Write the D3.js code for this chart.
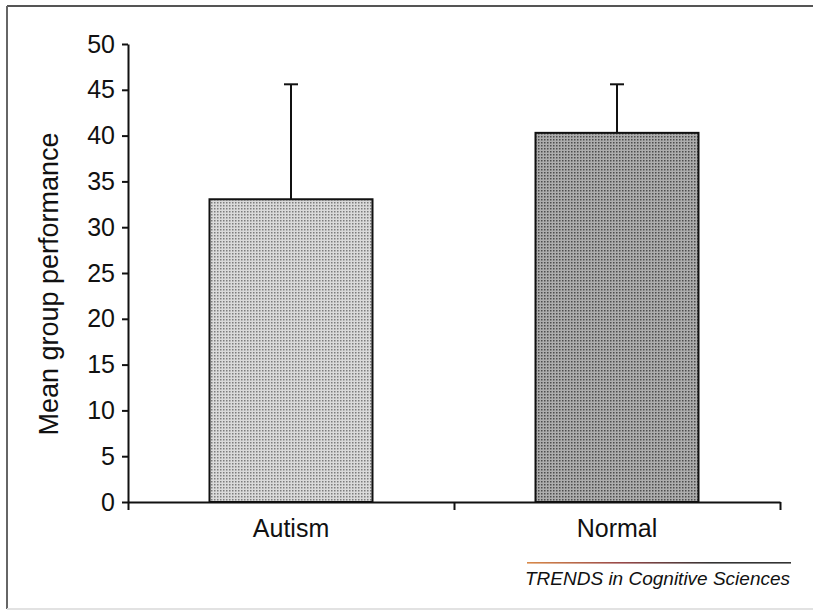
<!DOCTYPE html>
<html>
<head>
<meta charset="utf-8">
<script src="https://cdn.jsdelivr.net/npm/d3@7"></script>
<style>
  body { margin: 0; background: #fff; }
  svg { display: block; }
  text { font-family: Arial, "Liberation Sans", sans-serif; fill: #111; }
</style>
</head>
<body>
<svg id="chart"></svg>
<script>
// data
const groups = ["Autism", "Normal"];
const means = [33.05, 40.3];
const errors = [12.55, 5.3];
const yTicks = [0, 5, 10, 15, 20, 25, 30, 35, 40, 45, 50];

const W = 813, H = 611;
const svg = d3.select("#chart").attr("width", W).attr("height", H);

// patterns for the stippled bars
const defs = svg.append("defs");
function stipple(id, bg, dot) {
  const p = defs.append("pattern")
    .attr("id", id).attr("patternUnits", "userSpaceOnUse")
    .attr("width", 3).attr("height", 3);
  p.append("rect").attr("width", 3).attr("height", 3).attr("fill", bg);
  p.append("rect").attr("x", 1).attr("y", 1).attr("width", 1.5).attr("height", 1.5).attr("fill", dot);
}
stipple("pA", "#dadada", "#7c7c7c");
stipple("pN", "#adadad", "#4c4c4c");
const fills = ["url(#pA)", "url(#pN)"];

// frame
svg.append("line").attr("x1", 7).attr("x2", W).attr("y1", 6).attr("y2", 6)
  .attr("stroke", "#555").attr("stroke-width", 2);
svg.append("line").attr("x1", 7).attr("x2", 7).attr("y1", 6).attr("y2", 609)
  .attr("stroke", "#666").attr("stroke-width", 2);
svg.append("line").attr("x1", 7).attr("x2", W).attr("y1", 609).attr("y2", 609)
  .attr("stroke", "#e2e2e2").attr("stroke-width", 2);

const x0 = 128, x1 = 780;
const y = d3.scaleLinear().domain([0, 50]).range([502, 44]);
const x = d3.scaleBand().domain(groups).range([x0, x1]).paddingInner(0).paddingOuter(0);
const xEdge = d3.scaleLinear().domain([0, groups.length]).range([x0, x1]);
const barW = x.bandwidth() * 0.5;

// bars
svg.append("g").selectAll("rect").data(groups).join("rect")
  .attr("x", d => x(d) + x.bandwidth() / 2 - barW / 2)
  .attr("y", (d, i) => y(means[i]))
  .attr("width", barW)
  .attr("height", (d, i) => y(0) - y(means[i]))
  .attr("fill", (d, i) => fills[i])
  .attr("stroke", "#111").attr("stroke-width", 2);

// error bars (upper only)
const eb = svg.append("g").attr("stroke", "#111").attr("stroke-width", 2);
groups.forEach((g, i) => {
  const cx = x(g) + x.bandwidth() / 2;
  eb.append("line").attr("x1", cx).attr("x2", cx)
    .attr("y1", y(means[i])).attr("y2", y(means[i] + errors[i]));
  eb.append("line").attr("x1", cx - 7).attr("x2", cx + 7)
    .attr("y1", y(means[i] + errors[i])).attr("y2", y(means[i] + errors[i]));
});

// y axis
const yAxis = svg.append("g").attr("transform", `translate(${x0},0)`)
  .call(d3.axisLeft(y).tickValues(yTicks).tickSize(6).tickSizeOuter(0).tickPadding(7));
yAxis.selectAll("path, line").attr("stroke", "#111").attr("stroke-width", 2);
yAxis.selectAll("text").style("font-size", "25px").attr("fill", "#111");

// x axis with ticks at band edges
const xAxis = svg.append("g").attr("transform", `translate(0,${y(0)})`)
  .call(d3.axisBottom(xEdge).tickValues(d3.range(groups.length + 1)).tickFormat("").tickSize(8).tickSizeOuter(0));
xAxis.selectAll("path, line").attr("stroke", "#111").attr("stroke-width", 2);

svg.append("g").selectAll("text").data(groups).join("text")
  .attr("x", d => x(d) + x.bandwidth() / 2)
  .attr("y", 537)
  .attr("text-anchor", "middle")
  .style("font-size", "25px")
  .text(d => d);

// y label
svg.append("text")
  .attr("transform", "translate(58,284) rotate(-90)")
  .attr("text-anchor", "middle")
  .style("font-size", "27px")
  .text("Mean group performance");

// journal footer
const grad = defs.append("linearGradient").attr("id", "rule");
grad.append("stop").attr("offset", "0%").attr("stop-color", "#d98a4a");
grad.append("stop").attr("offset", "35%").attr("stop-color", "#9a4a4a");
grad.append("stop").attr("offset", "70%").attr("stop-color", "#333");
grad.append("stop").attr("offset", "100%").attr("stop-color", "#333");
svg.append("rect").attr("x", 527).attr("y", 562).attr("width", 264).attr("height", 1.6)
  .attr("fill", "url(#rule)");
svg.append("text")
  .attr("x", 525).attr("y", 585)
  .style("font-size", "19px").style("font-style", "italic")
  .text("TRENDS in Cognitive Sciences");
</script>
</body>
</html>
